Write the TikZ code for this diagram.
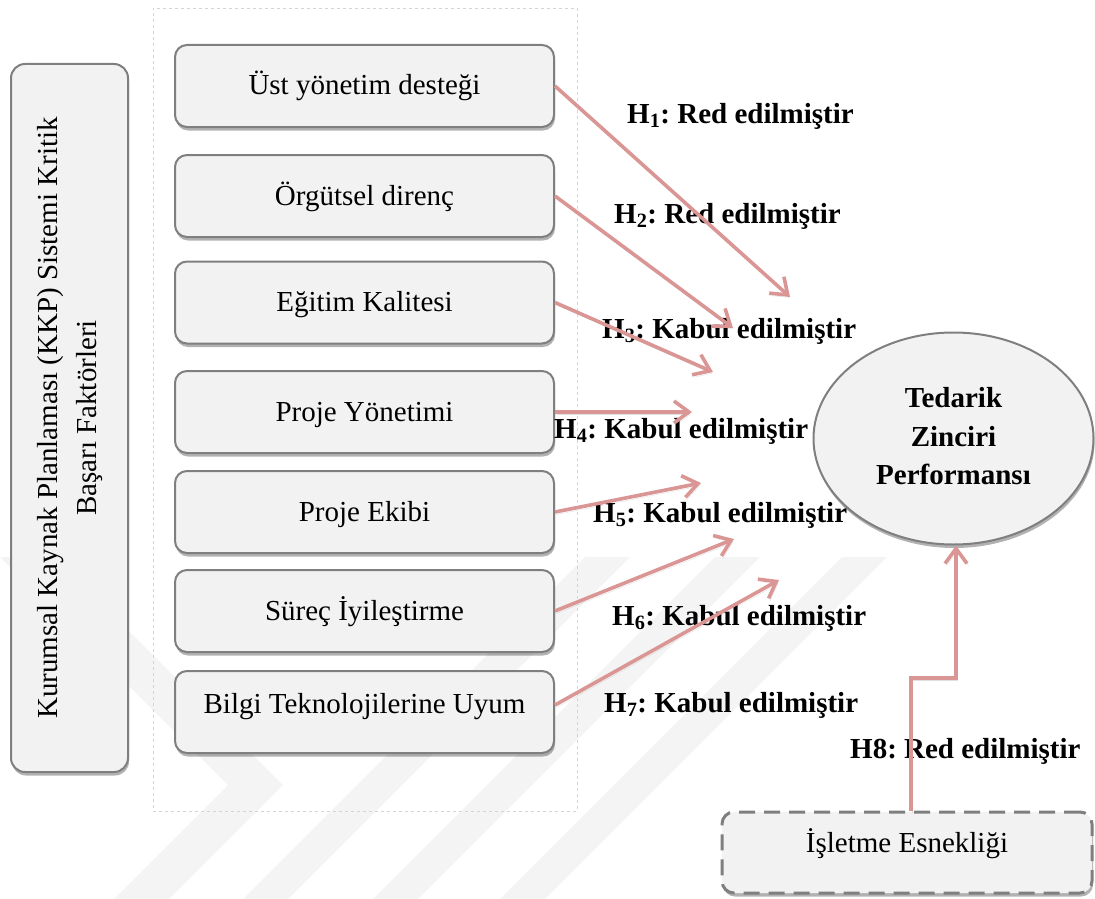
\documentclass[tikz,border=0pt]{standalone}
\usepackage{fontspec}
\setmainfont{Liberation Serif}
\usetikzlibrary{arrows.meta,shapes.geometric,shadows,calc}
\definecolor{boxfill}{HTML}{F2F2F2}
\definecolor{boxline}{HTML}{7F7F7F}
\definecolor{hypline}{HTML}{D99694}
\definecolor{framegray}{HTML}{D4D4D4}
\frenchspacing

\begin{document}
\begin{tikzpicture}[x=1pt,y=-1pt,
  txt/.style={font=\fontsize{29}{38.5}\selectfont},
  softshadow/.style={drop shadow={shadow xshift=1pt,shadow yshift=-3.5pt,opacity=0.3,fill=black}},
  factor/.style={txt, draw=boxline, line width=2pt, fill=boxfill, rounded corners=12pt,
    minimum width=379pt, minimum height=82pt, text height=24pt, text depth=6pt,
    inner sep=0pt, softshadow},
  hyp/.style={draw=hypline, line width=3.6pt, -{Straight Barb[length=15pt,width=22pt]},
    preaction={draw=black, opacity=0.12, transform canvas={shift={(1.5pt,-2.5pt)}}}},
  verdict/.style={font=\fontsize{29}{38.5}\selectfont\bfseries, anchor=base west, inner sep=0pt},
  mark stripe/.style={fill=black, opacity=0.045}
]
\useasboundingbox (0,0) rectangle (1095,899);

% faint striped emblem in the background
\fill[mark stripe] (0,557) -- (55,557) -- (283,785) -- (169,899) -- (114,899) -- (228,785) -- cycle;
\foreach \a in {243,373,500}
  \fill[mark stripe] (\a,899) -- (\a+45,899) -- (\a+387,557) -- (\a+342,557) -- cycle;

% frame around the list of factors
\node[draw=framegray, dashed, line width=0.8pt, minimum width=424pt, minimum height=803pt,
  inner sep=0pt] (frame) at (365,409.5) {};

% group title
\node[txt, draw=boxline, line width=2pt, fill=boxfill, rounded corners=14pt,
  minimum width=117pt, minimum height=708pt, inner sep=0pt, softshadow] (ksf) at (69.5,418)
  {\rotatebox{90}{\begin{tabular}{@{}c@{}}Kurumsal Kaynak Planlaması (KKP) Sistemi Kritik\\Başarı Faktörleri\end{tabular}}};

% critical success factors
\node[factor] (f1) at (364.5,86) {Üst yönetim desteği};
\node[factor] (f2) at (364.5,196) {Örgütsel direnç};
\node[factor] (f3) at (364.5,302.5) {Eğitim Kalitesi};
\node[factor] (f4) at (364.5,412) {Proje Yönetimi};
\node[factor] (f5) at (364.5,512) {Proje Ekibi};
\node[factor] (f6) at (364.5,611) {Süreç İyileştirme};
\node[factor] (f7) at (364.5,712) {\raisebox{8pt}{Bilgi Teknolojilerine Uyum}};

% outcome
\node[ellipse, draw=boxline, line width=2pt, fill=boxfill, minimum width=280pt,
  minimum height=212pt, inner sep=0pt, softshadow,
  font=\fontsize{29}{38.5}\selectfont\bfseries] (ted) at (953.5,438.5)
  {\raisebox{6pt}{\begin{tabular}{@{}c@{}}Tedarik\\Zinciri\\Performansı\end{tabular}}};

% moderator
\node[factor, dash pattern=on 16pt off 9pt, line width=3pt, minimum width=370pt,
  minimum height=81pt] (esn) at (907,852.5) {\raisebox{9pt}{İşletme Esnekliği}};

% hypothesis results
\node[verdict] (v1) at (627,123) {H\textsubscript{1}: Red edilmiştir};
\node[verdict] (v2) at (614,223) {H\textsubscript{2}: Red edilmiştir};
\node[verdict] (v3) at (602,338) {H\textsubscript{3}: Kabul edilmiştir};
\node[verdict] (v4) at (554,438) {H\textsubscript{4}: Kabul edilmiştir};
\node[verdict] (v5) at (593,522) {H\textsubscript{5}: Kabul edilmiştir};
\node[verdict] (v6) at (612,625) {H\textsubscript{6}: Kabul edilmiştir};
\node[verdict] (v7) at (604,712) {H\textsubscript{7}: Kabul edilmiştir};
\node[verdict] (v8) at (850,758) {H8: Red edilmiştir};

% arrow ends
\coordinate (t1) at (790,297);
\coordinate (t2) at (733,328);
\coordinate (t3) at (713,372);
\coordinate (t4) at (692,412);
\coordinate (t5) at (701,483);
\coordinate (t6) at (734,539);
\coordinate (t7) at (779,580);
\coordinate (h8a) at (911,678);
\coordinate (h8b) at (956,678);

\draw[hyp] (f1.east) -- (t1);
\draw[hyp] (f2.east) -- (t2);
\draw[hyp] (f3.east) -- (t3);
\draw[hyp] (f4.east) -- (t4);
\draw[hyp] (f5.east) -- (t5);
\draw[hyp] (f6.east) -- (t6);
\draw[hyp] ([yshift=7pt]f7.east) -- (t7);
\draw[hyp] (esn.north -| h8a) -- (h8a) -- (h8b) -- (h8b |- ted.south);
\end{tikzpicture}
\end{document}
